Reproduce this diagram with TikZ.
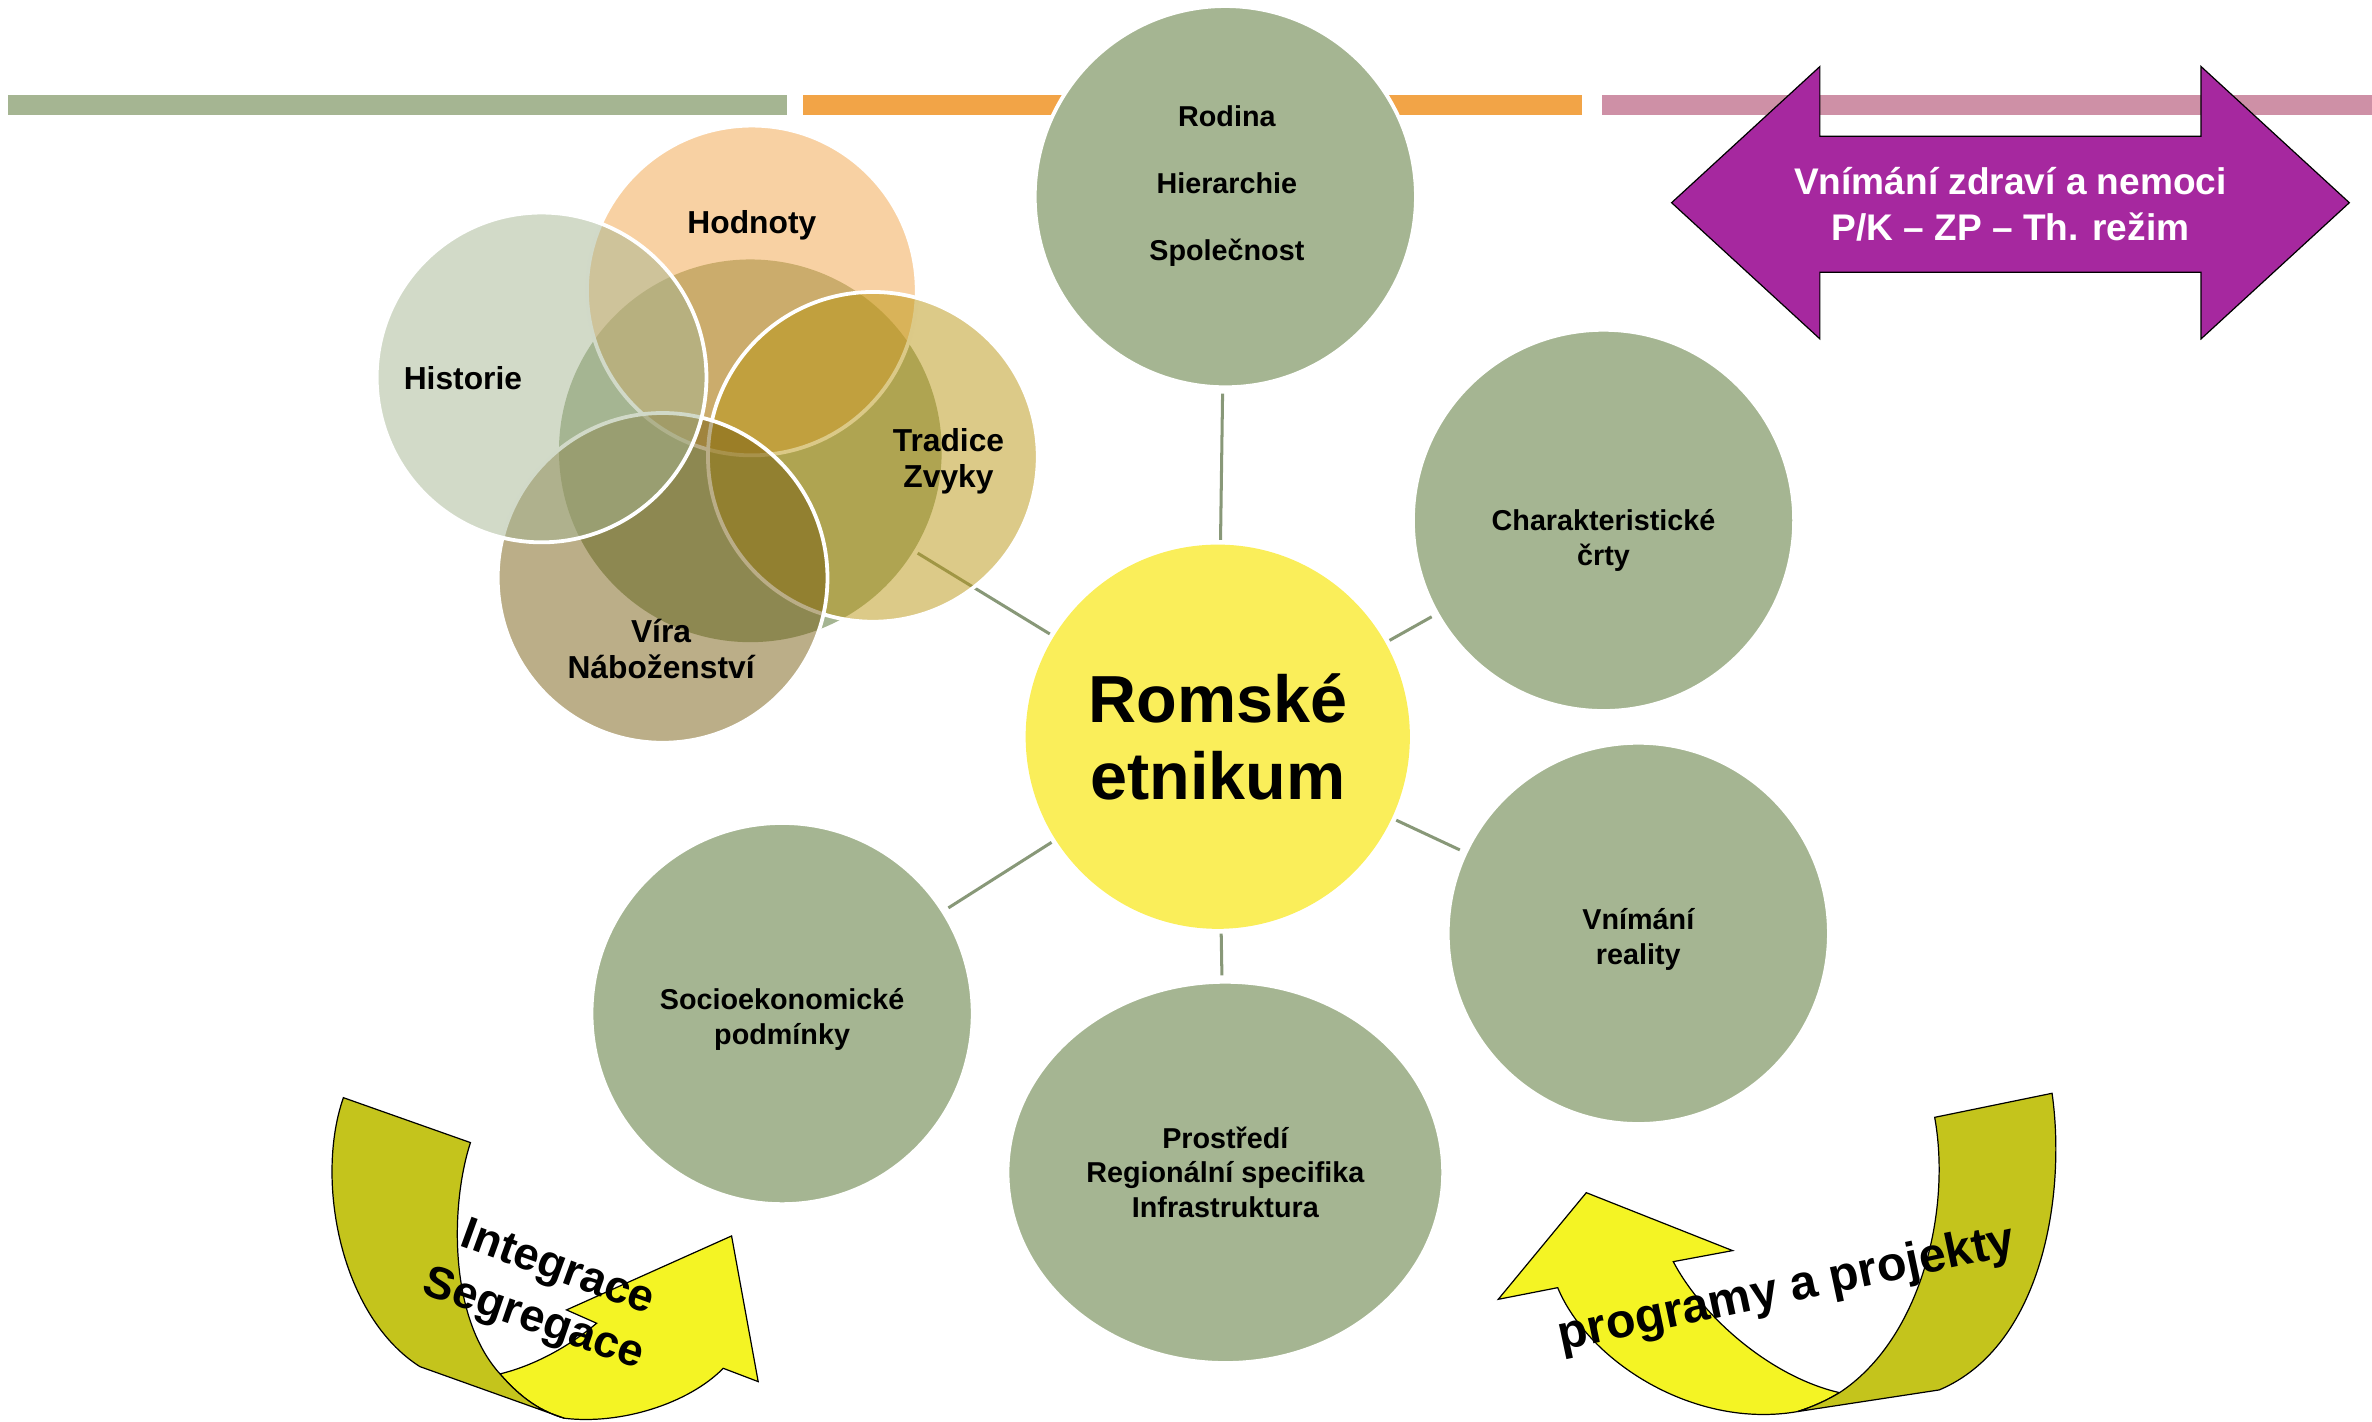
\documentclass[tikz,border=0pt]{standalone}
\usepackage{fontspec}
\setmainfont{Liberation Sans}
\usepackage{tikz}
\usetikzlibrary{positioning,shapes.geometric}

\definecolor{sage}{HTML}{A5B592}
\definecolor{oranz}{HTML}{F2A447}
\definecolor{ruzova}{HTML}{CE90A6}
\definecolor{fialova}{HTML}{A6289F}
\definecolor{spoj}{HTML}{889878}
\definecolor{olivova}{HTML}{C4C41C}
\definecolor{zlta}{HTML}{F4F424}
\definecolor{stred}{HTML}{FAEE5A}
\definecolor{vira}{HTML}{775D11}
\definecolor{tradice}{HTML}{B99511}

\newcommand{\malepismo}{\fontsize{19}{23}\selectfont\bfseries}
\newcommand{\klastrpismo}{\fontsize{21}{24}\selectfont\bfseries}
\newcommand{\velkepismo}{\fontsize{44}{51}\selectfont\bfseries}
\newcommand{\sipkapismo}{\fontsize{30}{36}\selectfont\bfseries}
\newcommand{\zdravipismo}{\fontsize{24.5}{30}\selectfont\bfseries}

\tikzset{
    tema/.style={circle, fill=sage, draw=white, line width=2.5pt, minimum size=252pt, inner sep=0pt, align=center, font=\malepismo},
    stredni/.style={circle, fill=stred, minimum size=254pt, inner sep=0pt, align=center, font=\velkepismo},
    jadro/.style={circle, fill=sage, minimum size=253pt, inner sep=0pt},
    bublina/.style={circle, draw=white, line width=2.5pt, fill opacity=0.5, minimum size=218pt, inner sep=0pt},
    popis/.style={align=center, font=\malepismo, inner sep=0pt},
    klastr/.style={align=center, font=\klastrpismo, inner sep=0pt},
    spojnice/.style={draw=spoj, line width=2pt, shorten <=3pt, shorten >=3pt},
    obrys/.style={draw=black, line width=0.8pt},
    otoceny/.style={font=\sipkapismo, anchor=base, inner sep=0pt},
}

\begin{document}
\begin{tikzpicture}[x=1pt,y=1pt]
    \useasboundingbox (0,0) rectangle (1568,-940);

    \fill[sage] (5,-63) rectangle (520,-76);
    \fill[oranz] (531,-63) rectangle (1046,-76);
    \fill[ruzova] (1059,-63) rectangle (1568,-76);

    \node[jadro] (jadro) at (496,-298) {};
    \node[stredni] (etnikum) at (805,-487) {Romské\\etnikum};

    \node[tema] (rodina) at (810,-130) {};
    \node[popis] (rodinaText) at (811,-123) {Rodina\\[21.5pt]Hierarchie\\[21.5pt]Společnost};
    \node[tema] (crty) at (1060,-344) {};
    \node[popis] (crtyText) at (1060,-357) {Charakteristické\\črty};
    \node[tema] (realita) at (1083,-617) {};
    \node[popis] (realitaText) at (1083,-621) {Vnímání\\reality};
    \node[tema, ellipse, minimum width=288pt, minimum height=252pt] (prostredi) at (810,-775) {Prostředí\\Regionální specifika\\Infrastruktura};
    \node[tema] (podminky) at (517,-670) {};
    \node[popis] (podminkyText) at (517,-674) {Socioekonomické\\podmínky};

    \draw[spojnice] (etnikum) -- (rodina);
    \draw[spojnice] (etnikum) -- (crty);
    \draw[spojnice] (etnikum) -- (realita);
    \draw[spojnice] (etnikum) -- (prostredi);
    \draw[spojnice] (etnikum) -- (podminky);
    \draw[spojnice] (etnikum) -- (jadro);

    \node[bublina, fill=oranz] (hodnoty) at (497,-192) {};
    \node[bublina, fill=tradice] (zvyky) at (577,-302) {};
    \node[bublina, fill=vira] (nabozenstvi) at (438,-382) {};
    \node[bublina, fill=sage] (historie) at (358,-249.5) {};

    \node[klastr] (hodnotyText) at (497,-149) {Hodnoty};
    \node[klastr] (historieText) at (306,-250) {Historie};
    \node[klastr] (zvykyText) at (627,-305) {Tradice\\Zvyky};
    \node[klastr] (viraText) at (437,-429) {Víra\\Náboženství};

    \filldraw[fill=fialova, obrys] (1105,-134) -- (1203,-44) -- (1203,-90) -- (1455,-90)
        -- (1455,-44) -- (1553,-134) -- (1455,-224) -- (1455,-180) -- (1203,-180)
        -- (1203,-224) -- cycle;
    \node[align=center, text=white, font=\zdravipismo, inner sep=0pt] (zdravi) at (1329,-135)
        {Vnímání zdraví a nemoci\\P/K – ZP – Th. režim};

    \filldraw[fill=zlta, obrys] (330.5,-908.2) .. controls (352,-903) and (375,-891) .. (394.4,-874.7)
        -- (374.5,-865.9) -- (483.6,-817) -- (501.2,-913.3) -- (478.1,-904.5)
        .. controls (455,-928) and (410,-942) .. (373,-937.5)
        .. controls (358,-933) and (345,-925) .. (330.5,-908.2) -- cycle;
    \filldraw[fill=olivova, obrys] (227,-725.6) -- (311,-755.3)
        .. controls (298,-795) and (296,-870) .. (330.5,-908.2)
        .. controls (345,-925) and (358,-933) .. (373,-937.5)
        -- (277.6,-903.4)
        .. controls (225,-870) and (208,-780) .. (227,-725.6) -- cycle;

    \filldraw[fill=zlta, obrys] (1216,-920.6) .. controls (1170,-910) and (1125,-870) .. (1106.1,-834)
        -- (1145.3,-826.7) -- (1048.6,-788.4) -- (990.4,-858.9) -- (1029.7,-851.2)
        .. controls (1050,-900) and (1120,-945) .. (1188.3,-933.1)
        .. controls (1198,-930) and (1207,-926) .. (1216,-920.6) -- cycle;
    \filldraw[fill=olivova, obrys] (1278.9,-738.6) -- (1356.5,-722.7)
        .. controls (1366,-790) and (1350,-890) .. (1281.9,-918.8)
        -- (1188.3,-933.1)
        .. controls (1198,-930) and (1207,-926) .. (1216,-920.6)
        .. controls (1270,-885) and (1290,-800) .. (1278.9,-738.6) -- cycle;

    \node[otoceny, rotate=-20] (integrace) at (366,-846) {Integrace};
    \node[otoceny, rotate=-19] (segregace) at (350,-880) {Segregace};
    \node[otoceny, rotate=12, font=\fontsize{32}{38}\selectfont\bfseries] (programy) at (1183,-861) {programy a projekty};
\end{tikzpicture}
\end{document}
